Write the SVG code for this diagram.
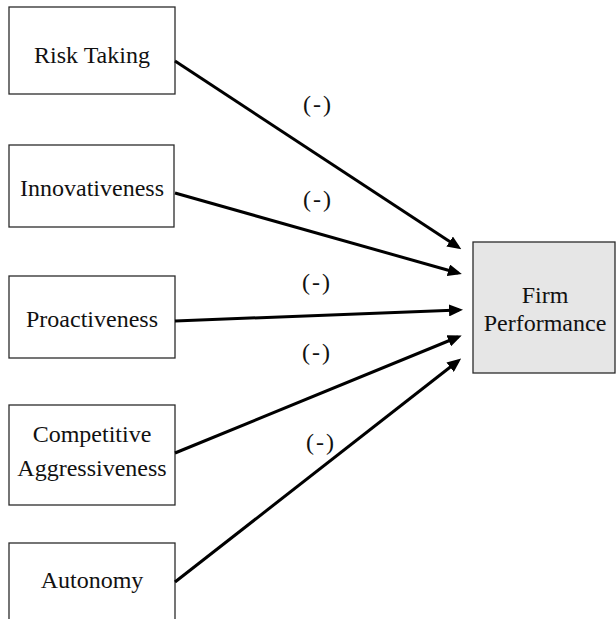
<svg xmlns="http://www.w3.org/2000/svg" width="616" height="619" viewBox="0 0 616 619">
<defs>
<style>
.box{fill:#ffffff;stroke:#2b2b2b;stroke-width:1.3}
.out{fill:#e6e6e6;stroke:#2b2b2b;stroke-width:1.3}
.t{font-family:"Liberation Serif","Times New Roman",serif;font-size:24px;fill:#111;text-anchor:middle}
.lbl{font-family:"Liberation Serif","Times New Roman",serif;font-size:24px;fill:#111;text-anchor:middle;letter-spacing:2px}
.c{stroke:#000;stroke-width:3;fill:none;marker-end:url(#ah)}
</style>
<marker id="ah" markerUnits="userSpaceOnUse" markerWidth="14" markerHeight="12" viewBox="0 0 14 12" refX="10" refY="6" orient="auto">
<path d="M0,0 L14,6 L0,12 z" fill="#000"/>
</marker>
</defs>
<g id="risk-taking">
<rect class="box" x="9" y="7" width="166" height="87"/>
<text class="t" x="92" y="63">Risk Taking</text>
</g>
<g id="innovativeness">
<rect class="box" x="9" y="145" width="165" height="82"/>
<text class="t" x="92" y="196">Innovativeness</text>
</g>
<g id="proactiveness">
<rect class="box" x="9" y="276" width="166" height="82"/>
<text class="t" x="92" y="327">Proactiveness</text>
</g>
<g id="competitive-aggressiveness">
<rect class="box" x="9" y="405" width="166" height="100"/>
<text class="t" x="92" y="442">Competitive</text>
<text class="t" x="92" y="476">Aggressiveness</text>
</g>
<g id="autonomy">
<rect class="box" x="9" y="543" width="166" height="100"/>
<text class="t" x="92" y="588">Autonomy</text>
</g>
<g id="firm-performance">
<rect class="out" x="473" y="242" width="142" height="131"/>
<text class="t" x="545" y="303">Firm</text>
<text class="t" x="545" y="331">Performance</text>
</g>
<g id="connectors">
<line class="c" x1="175" y1="61" x2="458" y2="247" stroke-width="2.6"/>
<line class="c" x1="175" y1="193" x2="458" y2="273" stroke-width="3.4"/>
<line class="c" x1="175" y1="321" x2="459" y2="310" stroke-width="3.4"/>
<line class="c" x1="175" y1="453" x2="458" y2="337" stroke-width="3"/>
<line class="c" x1="175" y1="582" x2="458" y2="361" stroke-width="2.8"/>
</g>
<g id="labels">
<text class="lbl" x="318" y="112">(-)</text>
<text class="lbl" x="318" y="207">(-)</text>
<text class="lbl" x="317" y="290">(-)</text>
<text class="lbl" x="317" y="360">(-)</text>
<text class="lbl" x="321" y="450">(-)</text>
</g>
</svg>
